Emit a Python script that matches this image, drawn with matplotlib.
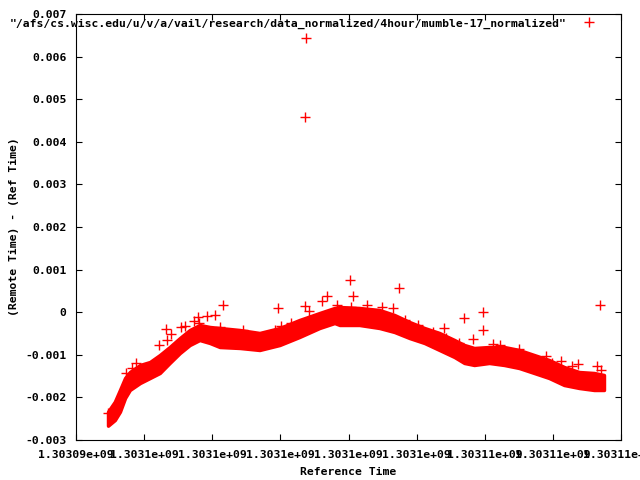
import matplotlib
matplotlib.use("Agg")
import matplotlib.pyplot as plt
from matplotlib.ticker import FixedLocator, FuncFormatter
from matplotlib.lines import Line2D

plt.rcParams['font.family'] = ['DejaVu Sans Mono']
plt.rcParams['font.weight'] = 'bold'
FS = 8.2

series_title = '"/afs/cs.wisc.edu/u/v/a/vail/research/data_normalized/4hour/mumble-17_normalized"'
x_label = "Reference Time"
y_label = "(Remote Time) - (Ref Time)"

x_ticks = [1303094000, 1303096000, 1303098000, 1303100000, 1303102000,
           1303104000, 1303106000, 1303108000, 1303110000]
y_ticks = [-0.003, -0.002, -0.001, 0, 0.001, 0.002, 0.003, 0.004, 0.005, 0.006, 0.007]

# dense band of samples: visual upper / lower envelope
band_time = [1303094940, 1303095140, 1303095290, 1303095440, 1303095580, 1303095880,
             1303096170, 1303096460, 1303096750, 1303097050, 1303097340, 1303097630,
             1303097930, 1303098220, 1303098810, 1303099390, 1303099980, 1303100560,
             1303101150, 1303101590, 1303101740, 1303102320, 1303102910, 1303103350,
             1303103790, 1303104230, 1303104670, 1303105110, 1303105400, 1303105690,
             1303106130, 1303106570, 1303107010, 1303107450, 1303107890, 1303108330,
             1303108770, 1303109210, 1303109500]
band_upper = [-0.002336, -0.002101, -0.001826, -0.001545, -0.001404, -0.001239,
              -0.001169, -0.001005, -0.000817, -0.000606, -0.000418, -0.000300,
              -0.000347, -0.000371, -0.000418, -0.000488, -0.000371, -0.000183,
              -0.000019, 0.000099, 0.000122, 0.000099, 0.000052, -0.000066,
              -0.000230, -0.000371, -0.000488, -0.000653, -0.000770, -0.000840,
              -0.000817, -0.000817, -0.000887, -0.001005, -0.001122, -0.001286,
              -0.001404, -0.001427, -0.001474]
band_lower = [-0.002664, -0.002531, -0.002336, -0.002014, -0.001826, -0.001662,
              -0.001545, -0.001427, -0.001192, -0.000958, -0.000770, -0.000653,
              -0.000723, -0.000817, -0.000840, -0.000887, -0.000770, -0.000582,
              -0.000371, -0.000254, -0.000300, -0.000300, -0.000371, -0.000465,
              -0.000606, -0.000723, -0.000887, -0.001052, -0.001192, -0.001239,
              -0.001192, -0.001239, -0.001310, -0.001427, -0.001545, -0.001709,
              -0.001779, -0.001826, -0.001826]

# isolated samples
out_time = [1303100740, 1303100731, 1303109370, 1303102050, 1303103474, 1303102126,
            1303101370, 1303101218, 1303100725, 1303100848, 1303101657, 1303102079,
            1303102542, 1303102982, 1303103298, 1303103656, 1303104031, 1303104470,
            1303104793, 1303104863, 1303105253, 1303105405, 1303105642, 1303105936,
            1303105936, 1303106229, 1303106454, 1303107011, 1303107811, 1303107987,
            1303108233, 1303108573, 1303108749, 1303109305, 1303109405, 1303098316,
            1303099928, 1303098073, 1303097848, 1303097584, 1303097458, 1303097604,
            1303097209, 1303097092, 1303098220, 1303096643, 1303096790, 1303096441,
            1303096658, 1303095767, 1303095641, 1303095465, 1303098903, 1303099832,
            1303100028, 1303100321, 1303094940]
out_value = [0.00643, 0.004575, 0.000169, 0.000756, 0.000561, 0.00038,
             0.00038, 0.00027, 0.000146, 0.000028, 0.000176, 0.000115,
             0.000176, 0.00012, 0.0000915, -0.000183, -0.0003, -0.000472,
             -0.000364, -0.000599, -0.00073, -0.000143, -0.000636, -0.000003,
             -0.000423, -0.000751, -0.00077, -0.000871, -0.001035, -0.001204,
             -0.001141, -0.00127, -0.001216, -0.001263, -0.001357, 0.000169,
             0.000106, -0.000066, -0.000089, -0.000113, -0.0002, -0.00026,
             -0.000317, -0.000355, -0.00034, -0.000401, -0.000512, -0.00077,
             -0.000645, -0.001188, -0.001306, -0.001427, -0.000418, -0.000418,
             -0.000317, -0.000246, -0.00237]

RED = "#ff0000"

fig = plt.figure(figsize=(6.4, 4.8), dpi=100)
ax = fig.add_axes([76/640, 1 - 440/480, (621-76)/640, (440-14)/480])

ax.fill_between(band_time, band_lower, band_upper, color=RED, linewidth=2.5,
                edgecolor=RED, zorder=2)
ax.plot(out_time, out_value, linestyle='none', marker='+', color=RED,
        markersize=6.5, markeredgewidth=1.0, zorder=3)

ax.set_xlim(x_ticks[0], x_ticks[-1])
ax.set_ylim(y_ticks[0], y_ticks[-1])
ax.xaxis.set_major_locator(FixedLocator(x_ticks))
ax.yaxis.set_major_locator(FixedLocator(y_ticks))
ax.xaxis.set_major_formatter(FuncFormatter(lambda v, p: "%g" % v))
ax.yaxis.set_major_formatter(FuncFormatter(lambda v, p: "%g" % round(v, 6)))
ax.tick_params(direction='in', length=4.5, width=0.8, top=True, right=True,
               labelsize=FS, pad=7, color='black')
for lab in ax.get_xticklabels() + ax.get_yticklabels():
    lab.set_fontweight('bold')
for s in ax.spines.values():
    s.set_linewidth(0.8)

ax.set_xlabel(x_label, fontsize=FS, fontweight='bold', labelpad=5)
ax.set_ylabel(y_label, fontsize=FS, fontweight='bold', labelpad=4)

handle = Line2D([], [], linestyle='none', marker='+', color=RED,
                markersize=6.5, markeredgewidth=1.0)
leg = ax.legend([handle], [series_title], loc='upper right', markerfirst=False,
                frameon=False, prop={'size': FS, 'weight': 'bold'},
                handlelength=1.5, handletextpad=1.2, borderaxespad=0.2,
                bbox_to_anchor=(0.970, 1.006))

fig.savefig("out.png", dpi=100)
